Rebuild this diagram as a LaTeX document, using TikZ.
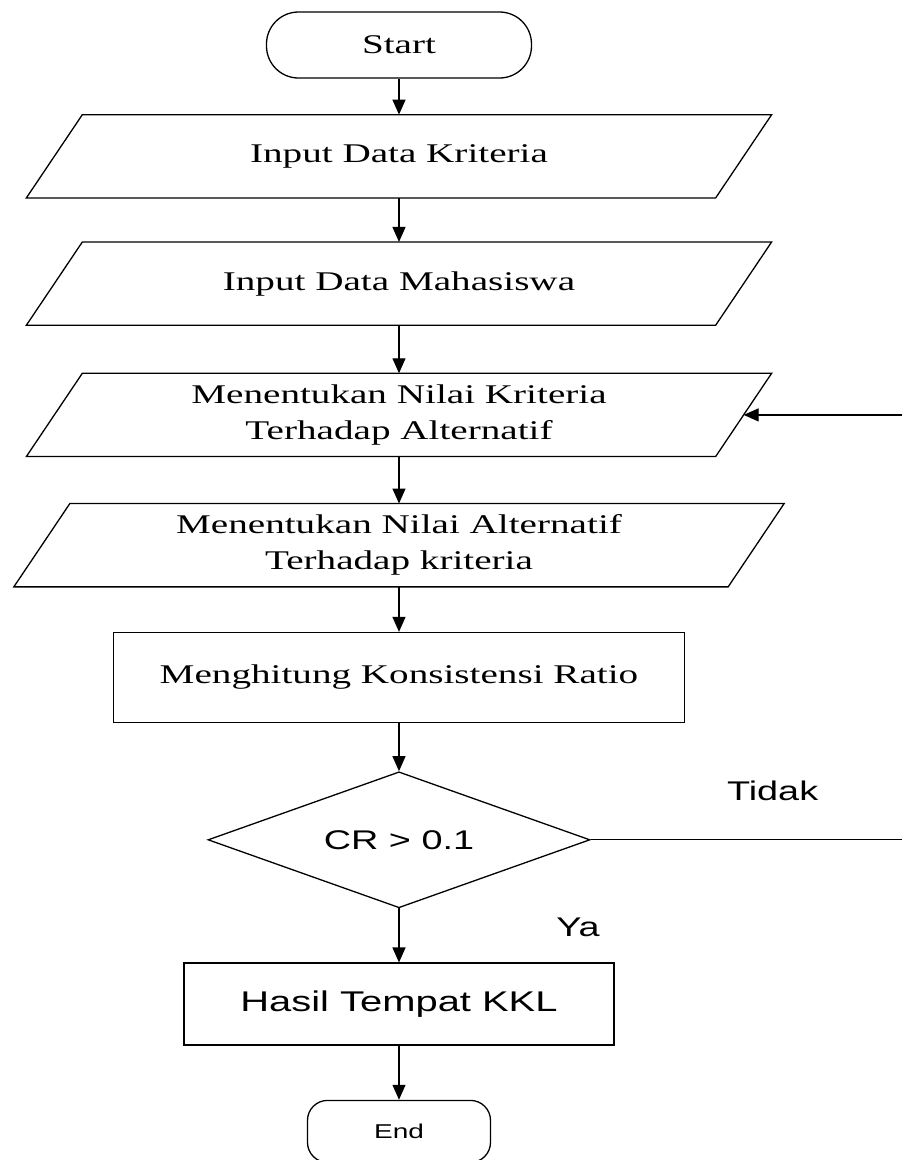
\documentclass[tikz,border=0pt]{standalone}
\usepackage{fontspec}
\setmainfont{Liberation Serif}[FakeStretch=1.45]
\newfontfamily\arialfont{Liberation Sans}[FakeStretch=1.4]
\usetikzlibrary{arrows.meta,positioning,shapes.geometric}

\begin{document}
\begin{tikzpicture}[
    x=1pt, y=1pt,
    line width=1.3pt,
    font=\fontsize{27}{36}\selectfont,
    terminal/.style={draw, rounded corners=32pt, minimum width=265pt, minimum height=66pt},
    dataio/.style={align=center, minimum width=688pt, minimum height=82pt, inner sep=2pt},
    proses/.style={draw, align=center, minimum width=571pt, minimum height=90pt},
    keputusan/.style={draw, diamond, aspect=2.8, minimum width=382pt, minimum height=136pt, inner sep=0pt, font=\arialfont\fontsize{27}{32}\selectfont},
    ket/.style={font=\arialfont\fontsize{27}{32}\selectfont},
    arrow/.style={-{Triangle[length=15pt,width=13pt]}}
  ]
    \useasboundingbox (-399,45) rectangle (503,-1115);
    \node[terminal] (start) {Start};
    \node[dataio, below=36pt of start] (kriteria) {Input Data Kriteria};
    \node[dataio, below=44pt of kriteria] (mhs) {Input Data Mahasiswa};
    \node[dataio, below=48pt of mhs] (nilaikrit) {Menentukan Nilai Kriteria\\Terhadap Alternatif};
    \node[dataio, minimum width=713pt, below=47pt of nilaikrit] (nilaialt) {Menentukan Nilai Alternatif\\Terhadap kriteria};
    \node[proses, below=45pt of nilaialt] (cr) {Menghitung Konsistensi Ratio};
    \node[keputusan, below=48pt of cr] (cek) {CR > 0.1};
    \node[proses, ket, font=\arialfont\fontsize{28.5}{32}\selectfont, minimum width=430pt, minimum height=82pt, below=54pt of cek] (hasil) {Hasil Tempat KKL};
    \node[terminal, rounded corners=20pt, minimum width=183pt, minimum height=62pt, font=\arialfont\fontsize{20}{24}\selectfont, below=54pt of hasil] (selesai) {End};
    % jajaran genjang untuk input
    \foreach \n in {kriteria,mhs,nilaikrit,nilaialt}
      \draw ([xshift=-28pt]\n.south west) -- ([xshift=28pt]\n.north west)
        -- ([xshift=28pt]\n.north east) -- ([xshift=-28pt]\n.south east) -- cycle;
    \coordinate (balik) at (515,0);
    \draw[arrow] (start) -- (kriteria);
    \draw[arrow] (kriteria) -- (mhs);
    \draw[arrow] (mhs) -- (nilaikrit);
    \draw[arrow] (nilaikrit) -- (nilaialt);
    \draw[arrow] (nilaialt) -- (cr);
    \draw[arrow] (cr) -- (cek);
    \draw[arrow] (cek) -- (hasil);
    \draw[arrow] (hasil) -- (selesai);
    \draw[arrow] (cek.east) -- (cek.east -| balik) |- (nilaikrit.east);
    \node[ket] (tidak) at ([xshift=182pt,yshift=49pt]cek.east) {Tidak};
    \node[ket] (ya) at ([xshift=179pt,yshift=-19pt]cek.south) {Ya};
  \end{tikzpicture}
\end{document}
